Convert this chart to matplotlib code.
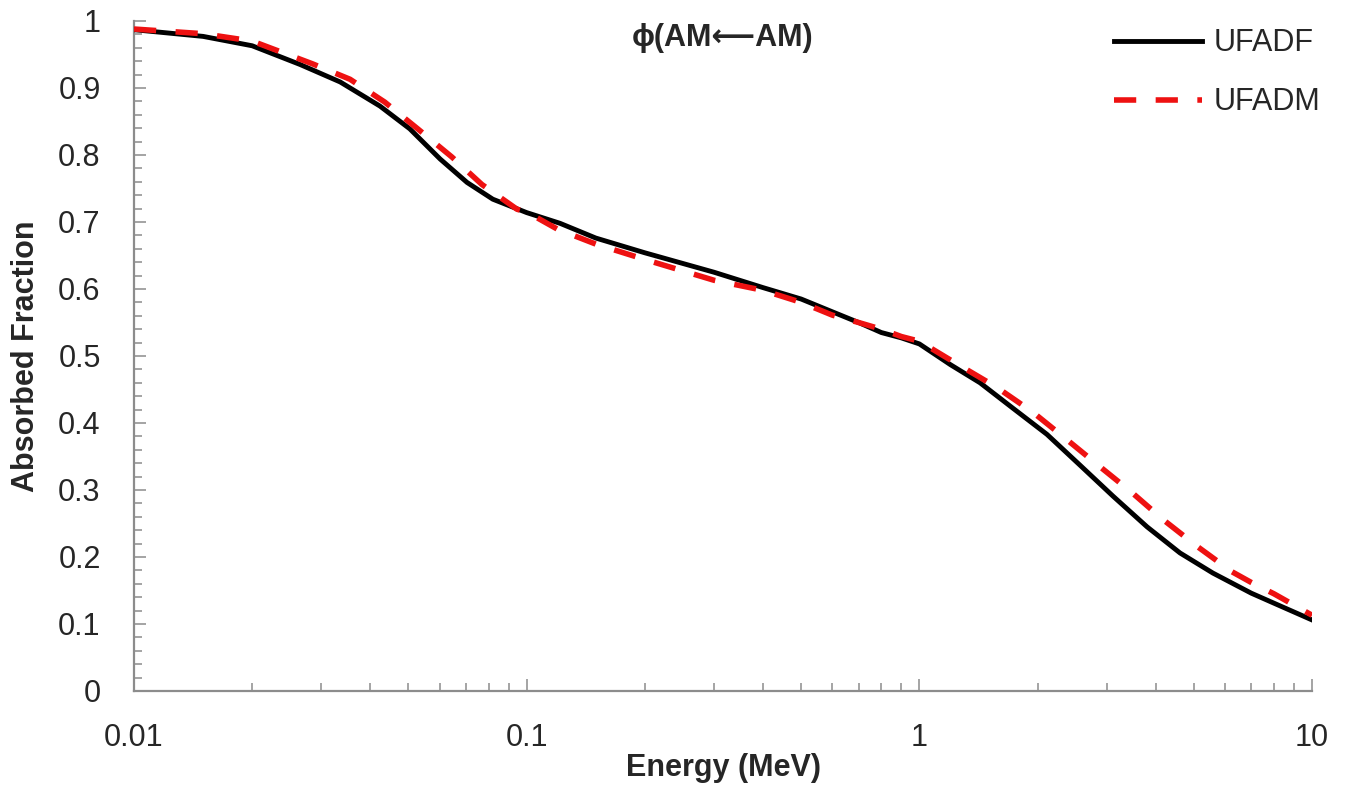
import numpy as np
import matplotlib
matplotlib.use("Agg")
import matplotlib.pyplot as plt
from matplotlib.ticker import FixedLocator, LogLocator, NullFormatter

plt.rcParams['font.family'] = ['Liberation Sans', 'DejaVu Sans']

# points, energies in MeV
energy_ufadf = [0.01, 0.015, 0.02, 0.0265, 0.0335, 0.0423, 0.0504, 0.0602, 0.0705, 0.082,
                0.1, 0.1216, 0.15, 0.2, 0.3, 0.4, 0.5, 0.6, 0.7, 0.8, 0.9, 1.0,
                1.2, 1.427, 1.731, 2.113, 2.565, 3.11, 3.8, 4.61, 5.59, 7.0, 8.0, 10.0]
ufadf = [0.987, 0.977, 0.963, 0.935, 0.909, 0.873, 0.839, 0.794, 0.759, 0.734,
         0.714, 0.698, 0.676, 0.654, 0.625, 0.602, 0.585, 0.566, 0.550, 0.535, 0.527, 0.518,
         0.487, 0.460, 0.422, 0.383, 0.337, 0.291, 0.245, 0.206, 0.176, 0.146, 0.131, 0.106]

energy_ufadm = [0.01, 0.015, 0.02, 0.0285, 0.0355, 0.0435, 0.0528, 0.0645, 0.0769, 0.0945,
                0.1, 0.12, 0.15, 0.2, 0.3, 0.4, 0.5, 0.6, 0.7, 0.8, 0.9, 1.0,
                1.2, 1.576, 1.946, 2.376, 2.88, 3.48, 4.17, 5.12, 6.25, 7.0, 8.0, 10.0]
ufadm = [0.988, 0.981, 0.970, 0.936, 0.913, 0.879, 0.839, 0.797, 0.756, 0.719,
         0.715, 0.689, 0.667, 0.644, 0.613, 0.598, 0.580, 0.561, 0.550, 0.540, 0.529, 0.522,
         0.494, 0.453, 0.416, 0.375, 0.335, 0.296, 0.256, 0.215, 0.178, 0.162, 0.145, 0.113]

y_ticks = [0, 0.1, 0.2, 0.3, 0.4, 0.5, 0.6, 0.7, 0.8, 0.9, 1]
y_labels = ['0', '0.1', '0.2', '0.3', '0.4', '0.5', '0.6', '0.7', '0.8', '0.9', '1']
x_ticks = [0.01, 0.1, 1, 10]
x_labels = ['0.01', '0.1', '1', '10']

grey = '#8c8c8c'
txt = '#262626'

fig = plt.figure(figsize=(13.56, 7.86), dpi=100)
ax = fig.add_axes([0.0988, 0.1209, 0.8688, 0.8524])

ax.plot(energy_ufadf, ufadf, color='black', lw=3.5, label='UFADF', zorder=3,
        solid_joinstyle='round')
ax.plot(energy_ufadm, ufadm, color='#ee1111', lw=4.0, dashes=(4, 3.5), label='UFADM',
        zorder=4, dash_joinstyle='round')

ax.set_xscale('log')
ax.set_xlim(0.01, 10)
ax.set_ylim(0, 1)

ax.set_xticks(x_ticks)
ax.set_xticklabels(x_labels)
ax.xaxis.set_minor_locator(LogLocator(base=10, subs=np.arange(2, 10)))
ax.xaxis.set_minor_formatter(NullFormatter())
ax.set_yticks(y_ticks)
ax.set_yticklabels(y_labels)
ax.yaxis.set_minor_locator(FixedLocator(np.arange(0, 1.001, 0.02)))

for s in ['top', 'right']:
    ax.spines[s].set_visible(False)
for s in ['left', 'bottom']:
    ax.spines[s].set_color(grey)
    ax.spines[s].set_linewidth(1.6)

ax.tick_params(which='both', direction='in', color=grey, width=1.1,
               labelsize=22, labelcolor=txt)
ax.tick_params(which='major', length=8.5)
ax.tick_params(which='minor', length=6)
ax.tick_params(axis='y', which='both', pad=24)
ax.tick_params(axis='x', which='both', pad=23)

ax.set_xlabel('Energy (MeV)', fontsize=22, fontweight='bold', color=txt, labelpad=0)
ax.set_ylabel('Absorbed Fraction', fontsize=22, fontweight='bold', color=txt, labelpad=12)

ax.text(0.5, 0.997, '\u03d5(AM\u27f5AM)', transform=ax.transAxes, ha='center', va='top',
        fontsize=22, fontweight='bold', color=txt)

leg = ax.legend(loc='upper right', bbox_to_anchor=(1.03, 1.03), frameon=False,
                fontsize=22, handlelength=2.9, labelspacing=0.95, handletextpad=0.35)
for t in leg.get_texts():
    t.set_color(txt)

fig.savefig('out.png', dpi=100)
